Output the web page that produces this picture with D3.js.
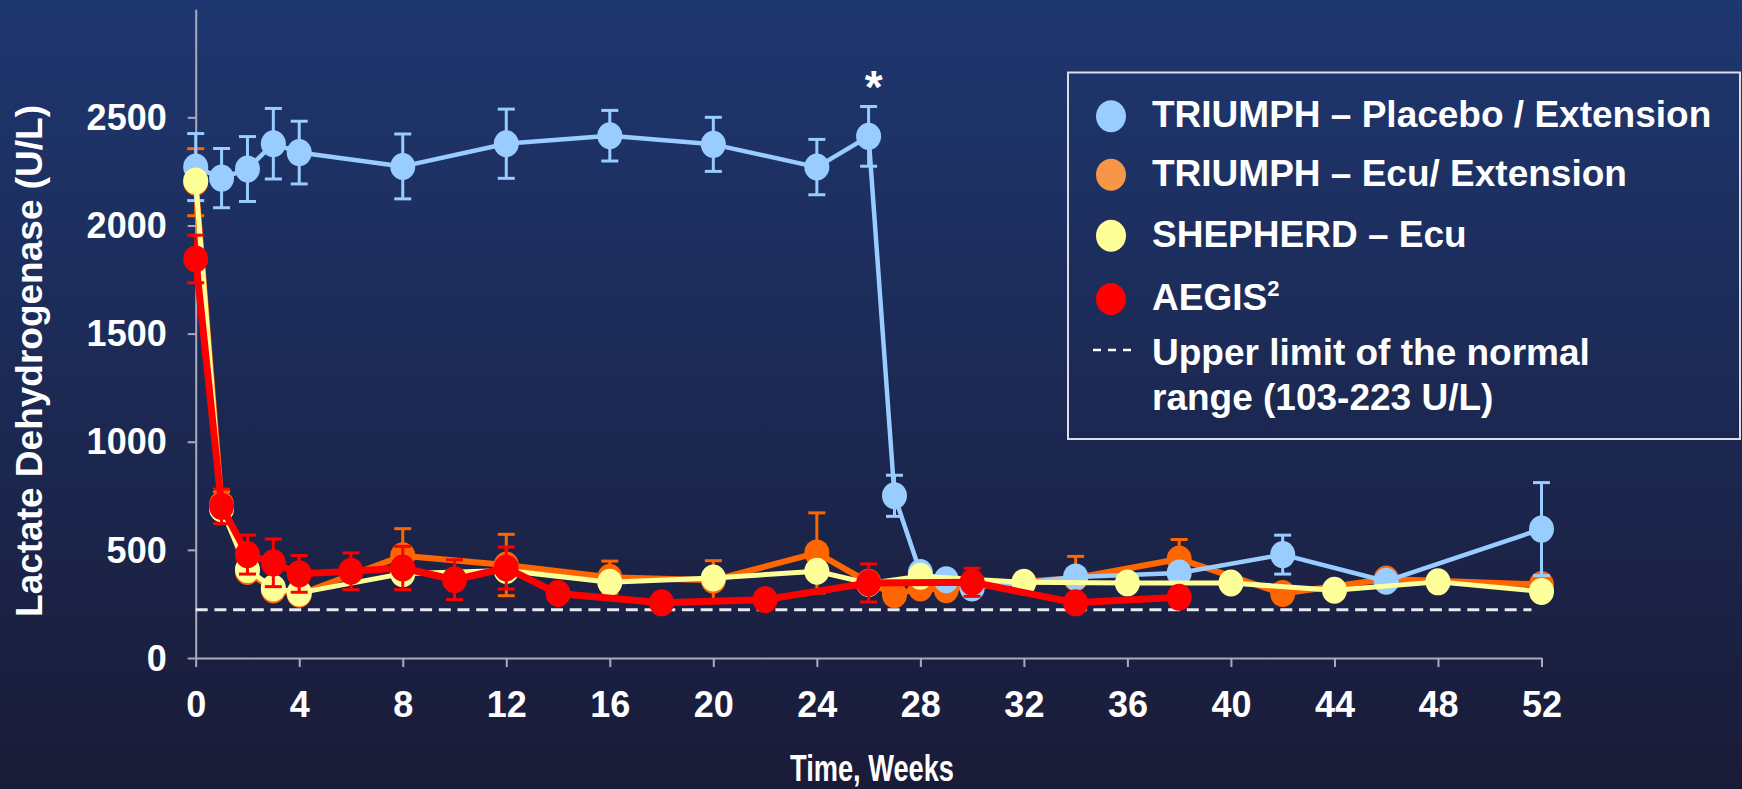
<!DOCTYPE html>
<html>
<head>
<meta charset="utf-8">
<script src="https://cdn.jsdelivr.net/npm/d3@7"></script>
<style>
  html, body { margin: 0; padding: 0; background: #1b1c38; }
  svg { display: block; }
  text { font-family: "Liberation Sans", Arial, Helvetica, sans-serif; font-weight: bold; fill: #ffffff; }
</style>
</head>
<body>
<svg id="chart" width="1742" height="789"></svg>
<script>
// ---- Data: LDH (U/L) by study week ----
const triumphWeeks = [0, 1, 2, 3, 4, 8, 12, 16, 20, 24, 26, 27, 28, 29, 30, 34, 38, 42, 46, 52];
const placeboLDH   = [2270, 2219, 2261, 2378, 2337, 2273, 2378, 2415, 2375, 2270, 2412, 750, 395, 362, 324, 375, 393, 478, 355, 596];
const placeboErr   = [155, 137, 150, 163, 145, 150, 160, 117, 125, 128, 138, 95, 0, 0, 0, 0, 0, 90, 0, 215];

const ecuLDH = [2200, 710, 400, 315, 295, 473, 430, 373, 360, 486, 350, 293, 324, 316, 335, 370, 458, 298, 365, 340];
const ecuErr = [155, 60, 0, 0, 0, 125, 142, 75, 90, 185, 0, 0, 0, 0, 0, 100, 90, 40, 0, 0];

const shepherdWeeks = [0, 1, 2, 3, 4, 8, 12, 16, 20, 24, 26, 28, 32, 36, 40, 44, 48, 52];
const shepherdLDH   = [2206, 690, 409, 324, 301, 390, 405, 350, 370, 401, 345, 378, 350, 347, 347, 313, 352, 308];

const aegisWeeks = [0, 1, 2, 3, 4, 6, 8, 10, 12, 14, 18, 22, 26, 30, 34, 38];
const aegisLDH   = [1845, 701, 478, 440, 389, 401, 416, 362, 416, 298, 255, 270, 347, 350, 255, 281];
const aegisErr   = [110, 80, 90, 110, 85, 85, 100, 92, 97, 0, 0, 0, 88, 65, 0, 0];

const upperLimitNormal = 223;
const xTickValues = [0, 4, 8, 12, 16, 20, 24, 28, 32, 36, 40, 44, 48, 52];
const yTickValues = [0, 500, 1000, 1500, 2000, 2500];
const significanceWeek = 26;

const legendLabels = ["TRIUMPH \u2013 Placebo / Extension", "TRIUMPH \u2013 Ecu/ Extension", "SHEPHERD \u2013 Ecu", "AEGIS"];
const legendColors = ["#99ccff", "#f79646", "#ffff99", "#ff0000"];
const ulnLabelLines = ["Upper limit of the normal", "range (103-223 U/L)"];

// ---- Layout ----
const svg = d3.select("#chart");
const W = 1742, H = 789;

const defs = svg.append("defs");
const bg = defs.append("linearGradient").attr("id", "bg").attr("x1", 0).attr("y1", 0).attr("x2", 0).attr("y2", 1);
bg.append("stop").attr("offset", "0%").attr("stop-color", "#1e3770");
bg.append("stop").attr("offset", "100%").attr("stop-color", "#1a1b37");
svg.append("rect").attr("width", W).attr("height", H).attr("fill", "url(#bg)");

const x = d3.scaleLinear().domain([0, 52]).range([195.7, 1541.5]);
const y = d3.scaleLinear().domain([0, 3000]).range([658, 9.2]);

const axisColor = "#a9abbd";

// Y axis
const yAxis = svg.append("g").attr("transform", `translate(${x(0)},0)`)
  .call(d3.axisLeft(y).tickValues(yTickValues).tickFormat(d3.format("d"))
    .tickSize(8).tickPadding(21).tickSizeOuter(0));
yAxis.select(".domain").attr("stroke", axisColor).attr("stroke-width", 2);
yAxis.selectAll(".tick line").attr("stroke", axisColor).attr("stroke-width", 2);
yAxis.selectAll(".tick text").attr("font-size", 36).attr("font-family", null).attr("fill", "#ffffff").attr("dy", "0.34em");

// X axis
const xAxis = svg.append("g").attr("transform", `translate(0,${y(0)})`)
  .call(d3.axisBottom(x).tickValues(xTickValues).tickFormat(d3.format("d"))
    .tickSize(9).tickPadding(24).tickSizeOuter(0));
xAxis.select(".domain").attr("stroke", axisColor).attr("stroke-width", 2);
xAxis.selectAll(".tick line").attr("stroke", axisColor).attr("stroke-width", 2);
xAxis.selectAll(".tick text").attr("font-size", 36).attr("font-family", null).attr("fill", "#ffffff");
svg.selectAll(".domain").attr("fill", "none");

// Axis titles
svg.append("text")
  .attr("transform", `translate(42,361) rotate(-90)`)
  .attr("text-anchor", "middle")
  .attr("font-size", 37)
  .text("Lactate Dehydrogenase (U/L)");

svg.append("text")
  .attr("x", 872).attr("y", 781)
  .attr("text-anchor", "middle")
  .attr("font-size", 36)
  .attr("textLength", 164).attr("lengthAdjust", "spacingAndGlyphs")
  .text("Time, Weeks");

// Upper limit of normal
svg.append("line")
  .attr("x1", x(0)).attr("x2", x(52) - 10)
  .attr("y1", y(upperLimitNormal)).attr("y2", y(upperLimitNormal))
  .attr("stroke", "#e8e8ee").attr("stroke-width", 3)
  .attr("stroke-dasharray", "12,6.7");

// ---- Series ----
function zip(weeks, vals, errs) {
  return weeks.map((w, i) => ({ w, v: vals[i], e: errs ? errs[i] : 0 }));
}

const series = [
  { name: "ecu",      data: zip(triumphWeeks, ecuLDH, ecuErr),        color: "#ff6600", lw: 6 },
  { name: "placebo",  data: zip(triumphWeeks, placeboLDH, placeboErr), color: "#99ccff", lw: 4.5 },
  { name: "shepherd", data: zip(shepherdWeeks, shepherdLDH, null),     color: "#ffff99", lw: 5 },
  { name: "aegis",    data: zip(aegisWeeks, aegisLDH, aegisErr),       color: "#ff0000", lw: 7 }
];

const line = d3.line().x(d => x(d.w)).y(d => y(d.v));
const cap = 8.5;

series.forEach(s => {
  const g = svg.append("g").attr("class", "series-" + s.name);
  const withErr = s.data.filter(d => d.e > 0);
  const eb = g.append("g").attr("stroke", s.color).attr("stroke-width", 3);
  withErr.forEach(d => {
    eb.append("line").attr("x1", x(d.w)).attr("x2", x(d.w)).attr("y1", y(d.v - d.e)).attr("y2", y(d.v + d.e));
    eb.append("line").attr("x1", x(d.w) - cap).attr("x2", x(d.w) + cap).attr("y1", y(d.v + d.e)).attr("y2", y(d.v + d.e));
    eb.append("line").attr("x1", x(d.w) - cap).attr("x2", x(d.w) + cap).attr("y1", y(d.v - d.e)).attr("y2", y(d.v - d.e));
  });
  g.append("path").datum(s.data)
    .attr("d", line).attr("fill", "none")
    .attr("stroke", s.color).attr("stroke-width", s.lw).attr("stroke-linejoin", "round");
  g.selectAll("ellipse").data(s.data).join("ellipse")
    .attr("cx", d => x(d.w)).attr("cy", d => y(d.v))
    .attr("rx", 12.5).attr("ry", 13.5)
    .attr("fill", s.color);
});

// Significance marker above week 26 placebo
const sigIdx = triumphWeeks.indexOf(significanceWeek);
svg.append("text")
  .attr("x", x(significanceWeek) + 5)
  .attr("y", y(placeboLDH[sigIdx] + placeboErr[sigIdx]) - 4)
  .attr("text-anchor", "middle")
  .attr("font-size", 46)
  .text("*");

// ---- Legend ----
const lg = svg.append("g");
lg.append("rect")
  .attr("x", 1068).attr("y", 72.5).attr("width", 672).attr("height", 366.5)
  .attr("fill", "none").attr("stroke", "#dcdce4").attr("stroke-width", 2);

const rowBase = [127.3, 185.7, 246.7, 310];
legendLabels.forEach((lab, i) => {
  lg.append("ellipse").attr("cx", 1111).attr("cy", rowBase[i] - 11).attr("rx", 15).attr("ry", 16)
    .attr("fill", legendColors[i]);
  const t = lg.append("text").attr("x", 1152).attr("y", rowBase[i]).attr("font-size", 37).text(lab);
  if (lab === "AEGIS") {
    t.append("tspan").attr("font-size", 22).attr("dy", -14).text("2");
  }
});
lg.append("line")
  .attr("x1", 1093).attr("x2", 1131).attr("y1", 350).attr("y2", 350)
  .attr("stroke", "#ffffff").attr("stroke-width", 2.5).attr("stroke-dasharray", "8,7");
ulnLabelLines.forEach((l, i) => {
  lg.append("text").attr("x", 1152).attr("y", 365 + i * 45).attr("font-size", 37).text(l);
});
</script>
</body>
</html>
